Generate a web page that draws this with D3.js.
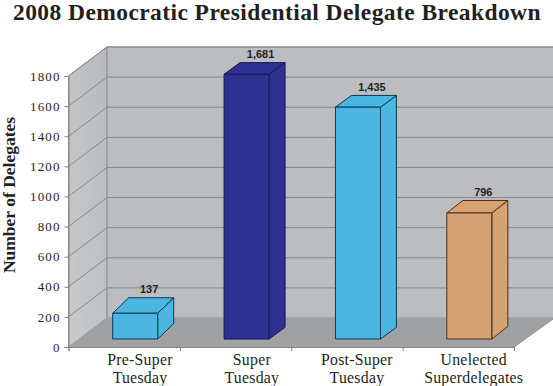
<!DOCTYPE html>
<html><head><meta charset="utf-8">
<script src="https://cdn.jsdelivr.net/npm/d3@7"></script>
<style>
html,body{margin:0;padding:0;background:#fff;overflow:hidden}
svg{display:block}
.serif{font-family:"Liberation Serif",serif;fill:#231f20}
.val{font-family:"Liberation Sans",Arial,sans-serif;font-weight:700;font-size:11px;fill:#231f20;text-anchor:middle}
</style></head><body>
<svg id="c" width="553" height="386"></svg>
<script>
const titleText = "2008 Democratic Presidential Delegate Breakdown";
const yTitle = "Number of Delegates";
const categories = ["Pre-Super Tuesday","Super Tuesday","Post-Super Tuesday","Unelected Superdelegates"];
const categoryLines = [["Pre-Super","Tuesday"],["Super","Tuesday"],["Post-Super","Tuesday"],["Unelected","Superdelegates"]];
const plottedValues = [171,1758,1540,837];
const valueLabels = ["137","1,681","1,435","796"];
const yTicks = [0,200,400,600,800,1000,1200,1400,1600,1800];
const barColors = ["#4cb6e2","#2e3192","#4cb6e2","#d6a274"];
const barStrokes = ["#0b3a55","#15174f","#0b3a55","#4a3018"];
const barRise = [15.5,11.7,11.7,12.5];
const labelNudge = [15.8,16.3,10,15.4];

const svg = d3.select("#c");
const x = d3.scaleBand().domain(categories).range([68.5,514]);
const y = d3.scaleLinear().domain([0,1800]).range([347,76]);
const off = {x:38.5,y:-29};           // front plane to back wall
const floorOff = {x:11,y:-8};         // front plane to bar plane
const barDepthX = 16, barW = 45;
const poly = pts => pts.map(p=>p.join(",")).join(" ");

const defs = svg.append("defs");
const g1 = defs.append("linearGradient").attr("id","lw").attr("x1",0).attr("x2",1).attr("y1",1).attr("y2",0);
g1.append("stop").attr("offset",0).attr("stop-color","#c9cacc");
g1.append("stop").attr("offset",1).attr("stop-color","#b9babd");

const xL=x.range()[0], xR=x.range()[1], y0=y(0), yT=y(1800);
// walls and floor
svg.append("polygon").attr("points",poly([[xL,yT],[xL+off.x,yT+off.y],[xL+off.x,y0+off.y],[xL,y0]]))
  .attr("fill","url(#lw)").attr("stroke","#8f9093").attr("stroke-width",1);
svg.append("rect").attr("x",xL+off.x).attr("y",yT+off.y).attr("width",553-xL-off.x+2).attr("height",y0-yT)
  .attr("fill","#bcbdc0").attr("stroke","#8f9093").attr("stroke-width",1);
svg.append("polygon").attr("points",poly([[xL,y0],[xL+off.x,y0+off.y],[xR+off.x+2,y0+off.y],[xR,y0]]))
  .attr("fill","#a0a1a4").attr("stroke","none");
svg.append("line").attr("x1",xR).attr("y1",y0).attr("x2",xR+off.x+2).attr("y2",y0+off.y)
  .attr("stroke","#8f9093");

// gridlines
yTicks.filter(d=>d>0).forEach(d=>{
  svg.append("polyline").attr("fill","none").attr("stroke","#86878a").attr("stroke-width",1)
    .attr("points",poly([[xL,y(d)],[xL+off.x,y(d)+off.y],[555,y(d)+off.y]]));
});

// axes
const axL = svg.append("g").attr("transform",`translate(${xL},0)`)
  .call(d3.axisLeft(y).tickValues(yTicks).tickSize(4).tickPadding(4).tickFormat(d3.format("d")));
const axB = svg.append("g").attr("transform",`translate(0,${y0})`)
  .call(d3.axisBottom(d3.scaleLinear().domain([0,4]).range([xL,xR])).ticks(4).tickSize(4).tickFormat(""));
[axL,axB].forEach(a=>{a.selectAll("path,line").attr("stroke","#808285");});
axL.selectAll("text").attr("class","serif").style("font-size","13px").style("letter-spacing","1.1px");

// bars
const bars = svg.selectAll("g.bar").data(categories).join("g").attr("class","bar");
bars.each(function(c,i){
  const g=d3.select(this), v=plottedValues[i];
  const l=x(c)+x.bandwidth()/2+floorOff.x-barW/2, r=l+barW;
  const b=y(0)+floorOff.y, t=y(v)+floorOff.y, dx=barDepthX, dy=barRise[i];
  const st={fill:barColors[i],stroke:barStrokes[i]};
  const face=pts=>g.append("polygon").attr("points",poly(pts)).attr("fill",st.fill)
     .attr("stroke",st.stroke).attr("stroke-width",1).attr("stroke-linejoin","round");
  face([[r,t],[r+dx,t-dy],[r+dx,b-dy],[r,b]]);
  face([[l,t],[l+dx,t-dy],[r+dx,t-dy],[r,t]]);
  face([[l,t],[r,t],[r,b],[l,b]]);
  g.append("text").attr("class","val").attr("x",(l+r)/2+14).attr("y",t-dy-4.8).text(valueLabels[i]);
});

// category labels
categories.forEach((c,i)=>{
  const t=svg.append("text").attr("class","serif").attr("text-anchor","middle").style("font-size","15.8px").style("letter-spacing","0.25px");
  categoryLines[i].forEach((ln,k)=>t.append("tspan").attr("x",x(c)+x.bandwidth()/2+labelNudge[i]).attr("y",365+k*17.6).text(ln));
});

// titles
svg.append("text").attr("class","serif").attr("x",277).attr("y",19.5).attr("text-anchor","middle")
  .style("font-size","23.5px").style("font-weight","700").style("letter-spacing","0.42px").text(titleText);
svg.append("text").attr("class","serif").attr("transform","translate(15,195) rotate(-90)").attr("text-anchor","middle")
  .style("font-size","17.5px").style("font-weight","700").text(yTitle);
</script>
</body></html>
